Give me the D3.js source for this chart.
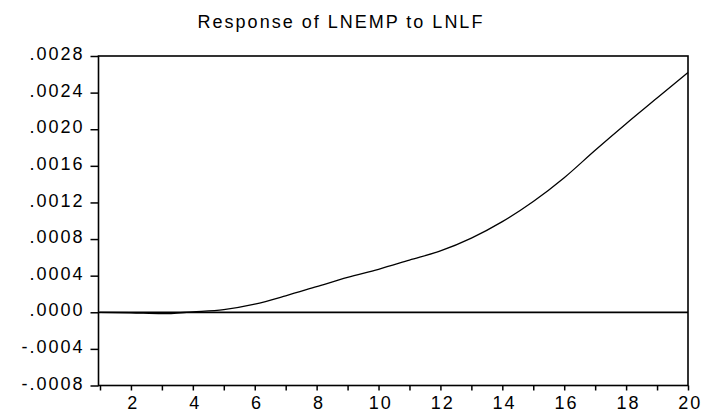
<!DOCTYPE html>
<html>
<head>
<meta charset="utf-8">
<script src="https://cdn.jsdelivr.net/npm/d3@7"></script>
<style>
  html, body { margin: 0; padding: 0; background: #fff; }
  svg { display: block; }
  text { font-family: "Liberation Sans", Arial, sans-serif; fill: #000; }
</style>
</head>
<body>
<svg id="chart" width="704" height="418"></svg>
<script>
const title = "Response of LNEMP to LNLF";
const periods = [1,2,3,4,5,6,7,8,9,10,11,12,13,14,15,16,17,18,19,20];
const response = [0, -0.000005, -0.000015, 0.000005, 0.00003, 0.00009, 0.00018, 0.00028, 0.00038, 0.00047,
                  0.00057, 0.00067, 0.00081, 0.00099, 0.00121, 0.00147, 0.00177, 0.00206, 0.00234, 0.00262];
const yTicks = [-0.0008, -0.0004, 0, 0.0004, 0.0008, 0.0012, 0.0016, 0.0020, 0.0024, 0.0028];
const xTickLabels = [2,4,6,8,10,12,14,16,18,20];

const svg = d3.select("#chart");
const mLeft = 98.5, mRight = 688, mTop = 56, mBottom = 385.5;

const x = d3.scaleLinear().domain([1, 20]).range([100, 688]);
const y = d3.scaleLinear().domain([-0.0008, 0.0028]).range([mBottom, mTop]);

const fmt = v => {
  const s = Math.abs(v).toFixed(4).replace(/^0/, "");
  return (v < 0 ? "-" : "") + s;
};

// title
svg.append("text")
  .attr("x", 341).attr("y", 28)
  .attr("text-anchor", "middle")
  .style("font-size", "18px")
  .style("letter-spacing", "2px")
  .text(title);

// frame
svg.append("rect")
  .attr("x", mLeft).attr("y", mTop)
  .attr("width", mRight - mLeft).attr("height", mBottom - mTop)
  .attr("fill", "none").attr("stroke", "#000").attr("stroke-width", 1.6);

// y axis
const yAxis = d3.axisLeft(y).tickValues(yTicks).tickFormat(fmt).tickSize(8).tickPadding(6);
const gy = svg.append("g").attr("transform", `translate(${mLeft},0)`).call(yAxis);
gy.select(".domain").remove();
gy.selectAll(".tick line").attr("stroke", "#000").attr("stroke-width", 1.5);
gy.selectAll(".tick text")
  .style("font-size", "18px").style("letter-spacing", "2px")
  .style("font-family", "'Liberation Sans', Arial, sans-serif")
  .attr("dy", "0.2em");

// x axis
const xAxis = d3.axisBottom(x).tickValues(periods)
  .tickFormat(d => xTickLabels.includes(d) ? d : "").tickSize(5).tickPadding(6);
const gx = svg.append("g").attr("transform", `translate(0,${mBottom})`).call(xAxis);
gx.select(".domain").remove();
gx.selectAll(".tick line").attr("stroke", "#000").attr("stroke-width", 1.5);
gx.selectAll(".tick text")
  .style("font-size", "18px").style("letter-spacing", "2px")
  .style("font-family", "'Liberation Sans', Arial, sans-serif")
  .attr("dx", "0.1em");

// zero line
svg.append("line")
  .attr("x1", mLeft).attr("x2", mRight)
  .attr("y1", y(0)).attr("y2", y(0))
  .attr("stroke", "#000").attr("stroke-width", 1.8);

// response line
const line = d3.line().x((d, i) => x(periods[i])).y(d => y(d)).curve(d3.curveMonotoneX);
svg.append("path")
  .datum(response)
  .attr("d", line)
  .attr("fill", "none").attr("stroke", "#000").attr("stroke-width", 1.3);
</script>
</body>
</html>
